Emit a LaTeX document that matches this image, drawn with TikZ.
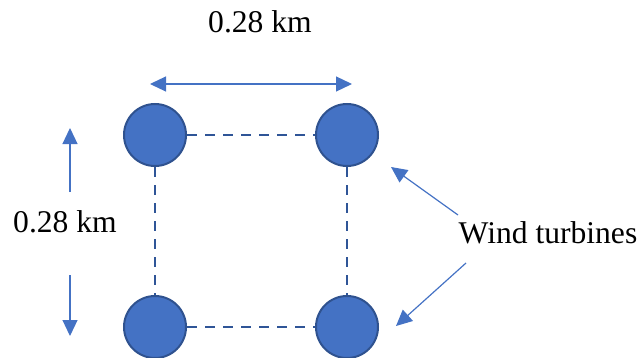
\documentclass[tikz,border=0pt]{standalone}
\usepackage{fontspec}
\setmainfont{Liberation Serif}
\usetikzlibrary{arrows.meta}
\definecolor{tfill}{HTML}{4472C4}
\definecolor{tedge}{HTML}{2F528F}
\definecolor{tdash}{HTML}{2F5597}
\tikzset{
  turbine/.style={circle, fill=tfill, draw=tedge, line width=1pt, minimum size=31pt, inner sep=0pt},
  link/.style={draw=tdash, line width=1.1pt, dash pattern=on 5pt off 4pt},
  pointer/.style={draw=tfill, line width=0.6pt, -{Triangle[length=8pt,width=7.5pt]}},
  label/.style={font=\fontsize{15.8}{19}\selectfont, inner sep=0pt}
}
\begin{document}
\begin{tikzpicture}[x=0.5pt,y=-0.5pt]
\useasboundingbox (0,0) rectangle (642,358);
\node[turbine] (tl) at (155,135) {};
\node[turbine] (tr) at (347,135) {};
\node[turbine] (bl) at (155,327) {};
\node[turbine] (br) at (347,327) {};
\draw[link] (tl) -- (tr);
\draw[link] (bl) -- (br);
\draw[link] (tl) -- (bl);
\draw[link] (tr) -- (br);
% top dimension
\node[label] (top) at (260,22) {0.28 km};
\coordinate (ha) at (150,84);
\coordinate (hb) at (352,84);
\draw[pointer, {Triangle[length=8pt,width=7.5pt]}-{Triangle[length=8pt,width=7.5pt]}] (ha) -- (hb);
% left dimension
\node[label] (left) at (65,222) {0.28 km};
\coordinate (ua) at (70,192);
\coordinate (ub) at (70,128);
\coordinate (da) at (70,275);
\coordinate (db) at (70,336);
\draw[pointer] (ua) -- (ub);
\draw[pointer] (da) -- (db);
% wind turbines label
\node[label] (wt) at (548,233) {Wind turbines};
\coordinate (w1a) at (458,215);
\coordinate (w1b) at (391,167);
\coordinate (w2a) at (466,263);
\coordinate (w2b) at (396,326);
\draw[pointer] (w1a) -- (w1b);
\draw[pointer] (w2a) -- (w2b);
\end{tikzpicture}
\end{document}
